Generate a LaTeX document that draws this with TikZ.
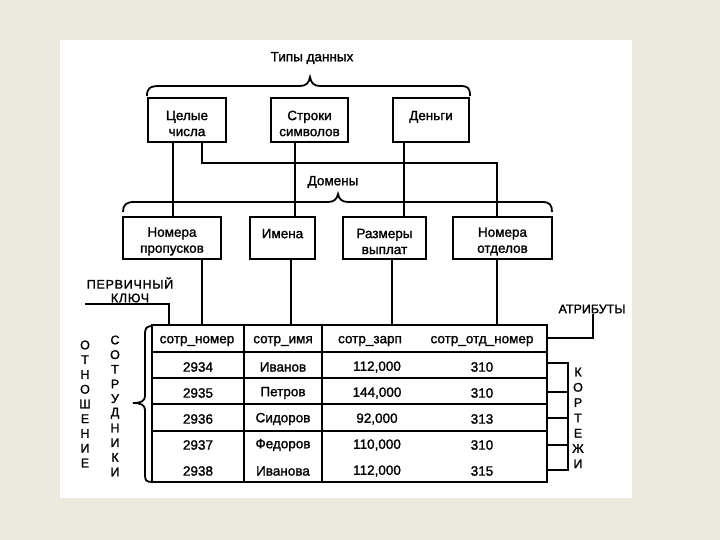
\documentclass[tikz,border=0pt]{standalone}
\usepackage{fontspec}
\setmainfont[FakeBold=1.4,AutoFakeBold=1.4]{Liberation Sans}
\definecolor{bgbeige}{HTML}{ECE9DF}
\begin{document}
\begin{tikzpicture}[x=1pt,y=-1pt,
  txt/.style={font=\fontsize{13.5}{16}\selectfont\bfseries,inner sep=0pt},
  box/.style={draw,line width=1.8pt,inner sep=0pt,minimum height=#1},
  btxt/.style={txt,align=center},
  conn/.style={line width=2.8pt},
  thin/.style={line width=1.8pt},
  vlet/.style={font=\fontsize{12.5}{14}\selectfont\bfseries,inner sep=0pt},
  spaced/.style={font=\fontsize{12.5}{14}\selectfont\bfseries\addfontfeature{LetterSpace=6}}]
\useasboundingbox (0,0) rectangle (720,540);
\fill[bgbeige] (0,0) rectangle (720,540);
\fill[white] (60,40) rectangle (632,498);

% data types
\node[txt] (types) at (312,58) {Типы данных};
\node[box=44pt,minimum width=78pt] (int) at (187,120) {};
\node[box=44pt,minimum width=77pt] (str) at (309.5,120) {};
\node[box=44pt,minimum width=76pt] (money) at (431,120) {};
\node[btxt] (intT) at ([yshift=-3.5pt]int.center) {Целые\\числа};
\node[btxt] (strT) at ([yshift=-3.5pt]str.center) {Строки\\символов};
\node[btxt] (moneyT) at ([yshift=-3.5pt]money.center) {Деньги\\\mbox{}};
\draw[thin] (147,96) .. controls (147,88) and (150,86) .. (160,86) -- (300,86)
  .. controls (306,86) and (309,83) .. (310,77)
  .. controls (311,83) and (314,86) .. (320,86) -- (460,86)
  .. controls (468,86) and (470,88) .. (470,96);

% domains
\node[txt] (dom) at (333,182) {Домены};
\node[box=42pt,minimum width=98pt] (pass) at (172,238) {};
\node[box=42pt,minimum width=65pt] (names) at (282.5,238) {};
\node[box=42pt,minimum width=83pt] (pay) at (384.5,238) {};
\node[box=42pt,minimum width=99pt] (otd) at (502.5,238) {};
\node[btxt] (passT) at ([yshift=-3.5pt]pass.center) {Номера\\пропусков};
\node[btxt] (namesT) at ([yshift=-3.5pt]names.center) {Имена\\\mbox{}};
\node[btxt] (payT) at ([yshift=-3.5pt]pay.center) {Размеры\\выплат};
\node[btxt] (otdT) at ([yshift=-3.5pt]otd.center) {Номера\\отделов};
\draw[thin] (123,212) .. controls (123,205) and (126,202) .. (134,202) -- (328,202)
  .. controls (334,202) and (337,199) .. (338,194)
  .. controls (339,199) and (342,202) .. (348,202) -- (542,202)
  .. controls (550,202) and (552,205) .. (552,212);

\coordinate (x1) at (173,0);
\coordinate (x2) at (202,0);
\coordinate (x3) at (295,0);
\coordinate (x4) at (404,0);
\coordinate (x5) at (497,0);
\coordinate (hy) at (0,163);
\draw[conn] (int.south -| x1) -- (pass.north -| x1);
\draw[conn] (int.south -| x2) -- (x2 |- hy) -- (x5 |- hy) -- (otd.north -| x5);
\draw[conn] (str.south -| x3) -- (names.north -| x3);
\draw[conn] (money.south -| x4) -- (pay.north -| x4);

% table
\coordinate (tl) at (152,325);
\coordinate (br) at (547,482);
\coordinate (c1) at (202,0);
\coordinate (c2) at (291,0);
\coordinate (c3) at (392,0);
\coordinate (c4) at (497,0);
\draw[conn] (pass.south -| c1) -- (tl -| c1);
\draw[conn] (names.south -| c2) -- (tl -| c2);
\draw[conn] (pay.south -| c3) -- (tl -| c3);
\draw[conn] (otd.south -| c4) -- (tl -| c4);

\draw[line width=2pt] (tl) rectangle (br);
\draw[line width=2pt] (152,352) -- (547,352);
\draw[line width=1.4pt] (152,378) -- (547,378);
\draw[line width=2pt] (152,404) -- (547,404);
\draw[line width=2pt] (152,431) -- (547,431);
\draw[line width=2pt] (244,325) -- (244,482);
\draw[line width=2pt] (322,325) -- (322,482);

\node[txt] (h1) at (197,341) {сотр\_номер};
\node[txt] (h2) at (283,341) {сотр\_имя};
\node[txt] (h3) at (370,341) {сотр\_зарп};
\node[txt] (h4) at (482,341) {сотр\_отд\_номер};
\foreach \n/\yy/\a/\b/\c/\d in {1/367/2934/Иванов/{112,000}/310, 2/393/2935/Петров/{144,000}/310, 3/419/2936/Сидоров/{92,000}/313, 4/445/2937/Федоров/{110,000}/310, 5/471/2938/Иванова/{112,000}/315}{
  \node[txt] (r\n a) at (198,\yy) {\a};
  \node[txt] (r\n b) at (283,\yy) {\b};
  \node[txt] (r\n c) at (377,\yy) {\c};
  \node[txt] (r\n d) at (482,\yy) {\d};
}

% brace left of table
\draw[thin] (152,326) .. controls (146,326) and (145,329) .. (145,334) -- (145,396)
  .. controls (145,401) and (141,403) .. (133,403)
  .. controls (141,403) and (145,405) .. (145,410) -- (145,475)
  .. controls (145,480) and (146,482) .. (152,482);

% primary key
\node[txt,spaced] (pk1) at (130,283) {ПЕРВИЧНЫЙ};
\node[txt,spaced] (pk2) at (130,298) {КЛЮЧ};
\draw[thin] (85,304) -- (169,304) -- (169,325);

% attributes
\node[txt,font=\fontsize{12.5}{14}\selectfont\bfseries] (attr) at (592,309) {АТРИБУТЫ};
\draw[thin] (547,338) -- (593,338) -- (attr.south -| 593,0);

% tuples
\foreach \yy in {363,392,445,470}{\draw[thin] (547,\yy) -- (568,\yy);}
\draw[line width=2.6pt] (547,418) -- (568,418);
\draw[thin] (568,362) -- (568,471);
\foreach \l [count=\i from 0] in {К,О,Р,Т,Е,Ж,И}{
  \node[vlet] (k\i) at (578,372+15.3*\i) {\l};
}
\foreach \l [count=\i from 0] in {О,Т,Н,О,Ш,Е,Н,И,Е}{
  \node[vlet] (o\i) at (85,345+14.75*\i) {\l};
}
\foreach \l [count=\i from 0] in {С,О,Т,Р,У,Д,Н,И,К,И}{
  \node[vlet] (s\i) at (115,340+14.67*\i) {\l};
}
\end{tikzpicture}
\end{document}
